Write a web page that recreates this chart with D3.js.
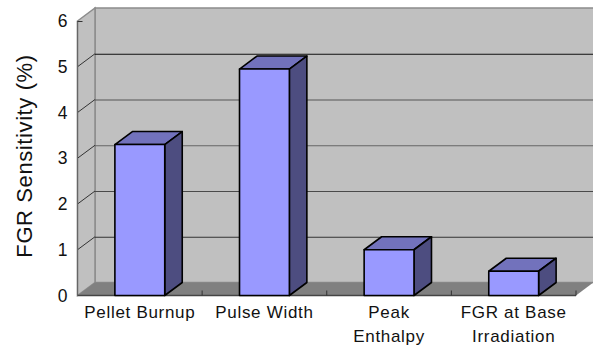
<!DOCTYPE html>
<html>
<head>
  <script src="https://d3js.org/d3.v7.js"></script>
  <style>
    html, body {
      margin: 0px;
      padding: 0px;
      background: #fff;
      font-family: "Liberation Sans", Arial, sans-serif;
    }
    .axis path, .axis line { display: none; }
    .axis text { fill: #111; font-family: "Liberation Sans", Arial, sans-serif; }
  </style>
</head>
<body>
  <div id="chart"></div>
  <script>
    const categories = ["Pellet Burnup", "Pulse Width", "Peak Enthalpy", "FGR at Base Irradiation"];
    const labelLines = [["Pellet Burnup"], ["Pulse Width"], ["Peak", "Enthalpy"], ["FGR at Base", "Irradiation"]];
    const values = [3.3, 4.95, 1.0, 0.53];
    const yTicks = [0, 1, 2, 3, 4, 5, 6];
    // the gridlines come out in different greys in the original
    const gridColors = ["#333", "#4a4a4a", "#666", "#555", "#111"];

    const width = 593, height = 347;
    const margin = {left: 77.5, right: 17, top: 21, bottom: 51.5};
    const depthX = 17.5, depthY = 13;   // 3D offset of the back wall

    const svg = d3.select("#chart").append("svg")
      .attr("width", width)
      .attr("height", height)
      .style("display", "block");

    const xScale = d3.scaleBand()
      .domain(categories)
      .range([margin.left, width - margin.right])
      .paddingInner(0.6)
      .paddingOuter(0.3);

    const yScale = d3.scaleLinear()
      .domain([0, 6])
      .range([height - margin.bottom, margin.top]);

    const x0 = xScale.range()[0], x1 = xScale.range()[1];
    const y0 = yScale(0), y6 = yScale(6);
    const pts = a => a.map(p => p.join(",")).join(" ");

    // back wall, side wall, floor
    svg.append("rect")
      .attr("x", x0 + depthX).attr("y", y6 - depthY)
      .attr("width", width - x0 - depthX + 2).attr("height", y0 - y6)
      .attr("fill", "#c0c0c0").attr("stroke", "#8c8c8c").attr("stroke-width", 1.5);

    svg.append("polygon")
      .attr("points", pts([[x0, y6], [x0 + depthX, y6 - depthY], [x0 + depthX, y0 - depthY], [x0, y0]]))
      .attr("fill", "#c0c0c0").attr("stroke", "#8c8c8c").attr("stroke-width", 1.5);

    svg.append("polygon")
      .attr("points", pts([[x0, y0], [x0 + depthX, y0 - depthY], [x1 + depthX, y0 - depthY], [x1, y0]]))
      .attr("fill", "#808080");

    // gridlines on the back wall, diagonals on the side wall
    svg.selectAll(".grid")
      .data(yTicks.slice(1, 6))
      .enter()
      .append("line")
        .attr("class", "grid")
        .attr("x1", x0 + depthX)
        .attr("x2", width)
        .attr("y1", d => yScale(d) - depthY + 0.5)
        .attr("y2", d => yScale(d) - depthY + 0.5)
        .attr("stroke", (d, i) => gridColors[i]);

    svg.selectAll(".diag")
      .data(yTicks.slice(1, 6))
      .enter()
      .append("line")
        .attr("class", "diag")
        .attr("x1", x0)
        .attr("x2", x0 + depthX)
        .attr("y1", d => yScale(d))
        .attr("y2", d => yScale(d) - depthY)
        .attr("stroke", "#333");

    // front axis lines and category ticks
    svg.append("line")
      .attr("x1", x0).attr("x2", x0).attr("y1", y6).attr("y2", y0)
      .attr("stroke", "#666").attr("stroke-width", 1.2);
    svg.append("line")
      .attr("x1", x0).attr("x2", x0 + 5).attr("y1", y6 + 0.5).attr("y2", y6 + 0.5)
      .attr("stroke", "#333");
    svg.append("line")
      .attr("x1", x0).attr("x2", x1).attr("y1", y0).attr("y2", y0)
      .attr("stroke", "#444").attr("stroke-width", 1.5);

    const step = xScale.step();
    svg.selectAll(".catTick")
      .data(categories.slice(1).concat(["end"]))
      .enter()
      .append("line")
        .attr("class", "catTick")
        .attr("x1", (d, i) => x0 + step * (i + 1))
        .attr("x2", (d, i) => x0 + step * (i + 1))
        .attr("y1", y0 - 5)
        .attr("y2", y0)
        .attr("stroke", "#333");

    // bars
    const bars = svg.selectAll(".bar")
      .data(categories)
      .enter()
      .append("g")
        .attr("class", "bar")
        .attr("stroke", "#000")
        .attr("stroke-width", 1.6)
        .attr("stroke-linejoin", "round");

    const bw = xScale.bandwidth();

    bars.append("polygon")
      .attr("points", (d, i) => {
        const l = xScale(d), t = yScale(values[i]);
        return pts([[l, t], [l + depthX, t - depthY], [l + bw + depthX, t - depthY], [l + bw, t]]);
      })
      .attr("fill", "#7272bc");

    bars.append("polygon")
      .attr("points", (d, i) => {
        const r = xScale(d) + bw, t = yScale(values[i]);
        return pts([[r, t], [r + depthX, t - depthY], [r + depthX, y0 - depthY], [r, y0]]);
      })
      .attr("fill", "#4d4d80");

    bars.append("rect")
      .attr("x", d => xScale(d))
      .attr("y", (d, i) => yScale(values[i]))
      .attr("width", bw)
      .attr("height", (d, i) => y0 - yScale(values[i]))
      .attr("fill", "#9999ff");

    // y axis labels
    svg.append("g")
      .attr("class", "axis")
      .attr("transform", `translate(${x0},0)`)
      .call(d3.axisLeft(yScale).tickValues(yTicks).tickFormat(d3.format("d")).tickSize(0).tickPadding(10))
      .selectAll("text")
        .attr("font-size", 17.5);

    // x axis labels, wrapped by hand like the original
    const xAxis = svg.append("g")
      .attr("class", "axis")
      .attr("transform", `translate(0,${y0})`)
      .call(d3.axisBottom(xScale).tickSize(0).tickFormat(""));

    xAxis.selectAll(".tick text")
      .attr("font-size", 17)
      .attr("letter-spacing", 0.7)
      .attr("y", 0)
      .attr("dy", 0)
      .each(function(d, i) {
        d3.select(this).selectAll("tspan")
          .data(labelLines[i])
          .enter()
          .append("tspan")
            .attr("x", 0)
            .attr("y", (t, j) => 22 + j * 24)
            .text(t => t);
      });

    // y axis title
    svg.append("text")
      .attr("transform", `translate(32,${(55 + 257) / 2}) rotate(-90)`)
      .attr("text-anchor", "middle")
      .attr("font-size", 22)
      .attr("letter-spacing", 0.6)
      .attr("fill", "#111")
      .text("FGR Sensitivity (%)");
  </script>
</body>
</html>
